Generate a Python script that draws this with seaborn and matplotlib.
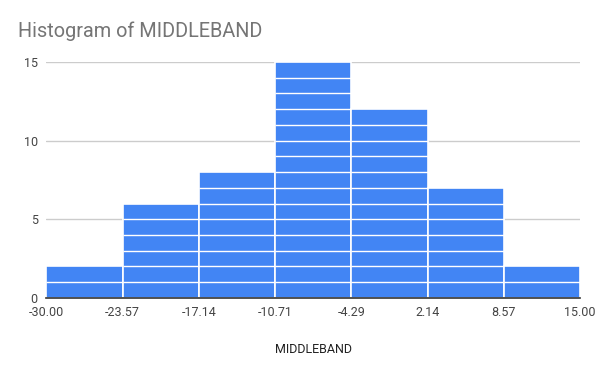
import matplotlib
matplotlib.use('Agg')
import matplotlib.pyplot as plt
import numpy as np
import seaborn as sns

# Histogram data
bin_edges = [-30.00, -23.57, -17.14, -10.71, -4.29, 2.14, 8.57, 15.00]
counts = [2, 6, 8, 15, 12, 7, 2]
edge_labels = ['-30.00', '-23.57', '-17.14', '-10.71', '-4.29', '2.14', '8.57', '15.00']
y_ticks = [0, 5, 10, 15]

sns.set_style('white')
plt.rcParams['font.family'] = ['Roboto', 'DejaVu Sans']

centers = [(a + b) / 2 for a, b in zip(bin_edges[:-1], bin_edges[1:])]

fig, ax = plt.subplots(figsize=(6, 3.71), dpi=100)
fig.subplots_adjust(left=0.077, right=0.967, bottom=0.197, top=0.833)

sns.histplot(x=centers, weights=counts, bins=bin_edges, ax=ax,
             color='#4285f4', alpha=1, edgecolor='white', linewidth=1.2, zorder=2)

# white separators for each item in a bar
for left, right, c in zip(bin_edges[:-1], bin_edges[1:], counts):
    levels = np.arange(1, c)
    if len(levels):
        ax.hlines(levels, left, right, colors='white', linewidth=1, zorder=3)

ax.set_xlim(bin_edges[0], bin_edges[-1])
ax.set_ylim(0, 15)
ax.set_xticks(bin_edges)
ax.set_xticklabels(edge_labels)
ax.set_yticks(y_ticks)
ax.grid(axis='y', color='#cccccc', linewidth=1, zorder=0)
ax.set_axisbelow(True)
for s in ['top', 'right', 'left']:
    ax.spines[s].set_visible(False)
ax.spines['bottom'].set_color('#333333')
ax.spines['bottom'].set_linewidth(1.2)
ax.spines['bottom'].set_zorder(4)
ax.tick_params(axis='both', length=0, labelsize=9, labelcolor='#444444')
ax.tick_params(axis='x', pad=6)
ax.tick_params(axis='y', pad=6)

ax.set_ylabel('')
ax.set_xlabel('MIDDLEBAND', fontsize=9, color='#222222', labelpad=17)
fig.text(0.03, 0.915, 'Histogram of MIDDLEBAND', fontsize=14.3, color='#757575',
         ha='left', va='center')

fig.savefig('out.png', dpi=100)
